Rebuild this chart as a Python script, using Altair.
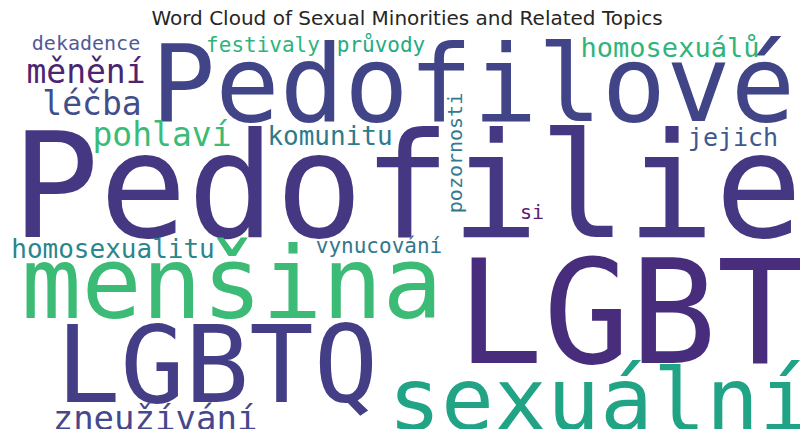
import altair as alt
import pandas as pd

# Word cloud content
words = ["Pedofilie", "LGBT", "Pedofilové", "LGBTQ", "menšina", "sexuální",
         "pohlaví", "měnění", "léčba", "homosexuálů", "zneužívání",
         "homosexualitu", "komunitu", "jejich", "festivaly", "průvody",
         "dekadence", "vynucování", "pozornosti", "si"]
# relative word weight (rendered font size, px)
weights = [146, 144, 107, 107, 100, 88, 33, 33, 33, 27, 34,
           26, 26, 25, 21, 21, 20, 21, 20, 20]
# layout produced by the word cloud (page pixel coordinates)
layout_x = [407, 630, 473, 217, 232, 600, 162, 86, 92, 670, 155,
            113, 330, 733, 263, 381, 86, 379, 462, 532]
layout_y = [237, 363, 121, 402, 318, 430, 146, 83, 115, 57, 430,
            258, 145, 146, 52, 52, 50, 253, 153, 219]
layout_angle = [0, 0, 0, 0, 0, 0, 0, 0, 0, 0, 0,
                0, 0, 0, 0, 0, 0, 0, 270, 0]
word_colors = ["#453781", "#472d7b", "#414487", "#433e85", "#3bbb75", "#21a386",
               "#3bbb75", "#4b2571", "#3f4f8c", "#2fb47c", "#46488f",
               "#2a858e", "#2c7b8e", "#3e5890", "#2eb37c", "#25ab82",
               "#4f5a9a", "#33778f", "#317a92", "#5d2170"]

title_text = "Word Cloud of Sexual Minorities and Related Topics"

df = pd.DataFrame({
    "word": words, "weight": weights, "x": layout_x, "y": layout_y,
    "angle": layout_angle, "color": word_colors,
})

xs = alt.Scale(domain=[8, 800], range=[0, 792], nice=False, zero=False)
ys = alt.Scale(domain=[8, 429], range=[0, 421], nice=False, zero=False)

cloud = alt.Chart(df).mark_text(
    font="DejaVu Sans Mono", align="center", baseline="alphabetic"
).encode(
    x=alt.X("x:Q", scale=xs, axis=None),
    y=alt.Y("y:Q", scale=ys, axis=None),
    text="word:N",
    size=alt.Size("weight:Q", scale=None, legend=None),
    angle=alt.Angle("angle:Q", scale=None),
    color=alt.Color("color:N", scale=None, legend=None),
)

title_df = pd.DataFrame({"t": [title_text], "x": [407], "y": [25]})
title = alt.Chart(title_df).mark_text(
    font="DejaVu Sans", fontSize=20, align="center", baseline="alphabetic",
    color="#262626"
).encode(
    x=alt.X("x:Q", scale=xs, axis=None),
    y=alt.Y("y:Q", scale=ys, axis=None),
    text="t:N",
)

chart = alt.layer(cloud, title).properties(
    width=792, height=421, autosize=alt.AutoSizeParams(type="none"),
    padding=0, background="white",
).configure_view(stroke=None)

chart.save("out.html", embed_options={"renderer": "svg", "actions": False})
